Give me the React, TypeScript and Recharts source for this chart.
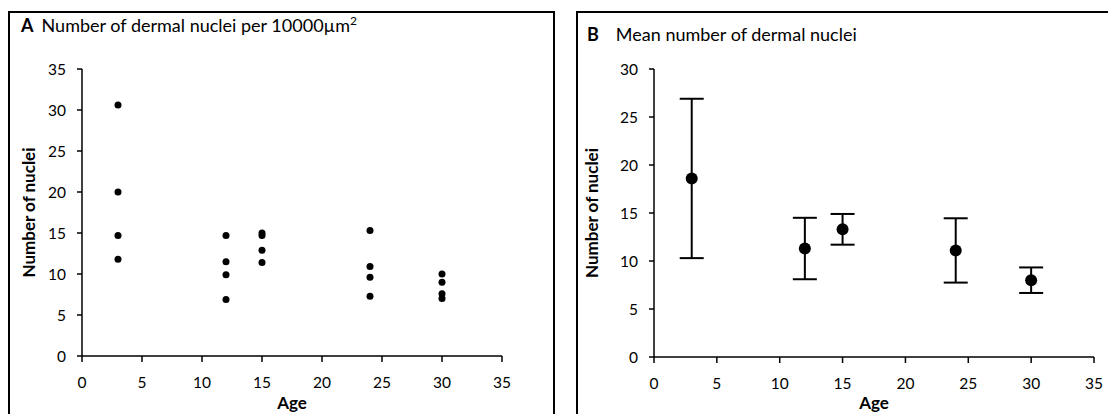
import { ScatterChart, Scatter, XAxis, YAxis, ErrorBar, Label } from "recharts";

// panel A: individual counts per age
const agesA = [3, 3, 3, 3, 12, 12, 12, 12, 15, 15, 15, 15, 24, 24, 24, 24, 30, 30, 30, 30];
const countsA = [30.6, 20.0, 14.7, 11.8, 14.7, 11.5, 9.9, 6.9, 15.0, 14.7, 12.9, 11.4, 15.3, 10.9, 9.6, 7.3, 10.0, 9.0, 7.6, 7.0];

// panel B: means with error
const agesB = [3, 12, 15, 24, 30];
const meansB = [18.6, 11.3, 13.3, 11.1, 8.0];
const errB = [8.3, 3.2, 1.6, 3.35, 1.33];

const xTicks = [0, 5, 10, 15, 20, 25, 30, 35];
const yTicksA = [0, 5, 10, 15, 20, 25, 30, 35];
const yTicksB = [0, 5, 10, 15, 20, 25, 30];

const dataA = agesA.map((age, i) => ({ age, n: countsA[i] }));
const dataB = agesB.map((age, i) => ({ age, n: meansB[i], err: errB[i] }));

const FONT = "Lato, 'Liberation Sans', sans-serif";
const tickStyle = { fill: "#000", fontSize: 15.5, fontFamily: FONT };
const axisLine = { stroke: "#000", strokeWidth: 1.5 };
const labelStyle = { fontFamily: FONT, fontSize: 17, fontWeight: 700, fill: "#000" };

const dot = (r: number) => (p: any) => <circle cx={p.cx} cy={p.cy} r={r} fill="#000" />;

function Title({ left, top, letter, text, gap, sup }: { left: number; top: number; letter: string; text: string; gap: number; sup?: string }) {
  return (
    <div style={{ position: "absolute", left, top, fontFamily: FONT, fontSize: 18, lineHeight: "18px", whiteSpace: "nowrap", color: "#000" }}>
      <b>{letter}</b>
      <span style={{ marginLeft: gap }}>{text}</span>
      {sup && <sup style={{ fontSize: 12, lineHeight: 0 }}>{sup}</sup>}
    </div>
  );
}

export default function App() {
  return (
    <div style={{ position: "absolute", left: 0, top: 0, width: 1108, height: 414, overflow: "hidden", background: "#fff" }}>
      <div style={{ position: "absolute", left: 8, top: 11, width: 543, height: 420, border: "2px solid #000" }} />
      <div style={{ position: "absolute", left: 576, top: 11, width: 560, height: 420, border: "2px solid #000" }} />

      <Title left={21} top={16} letter="A" text={"Number of dermal nuclei per 10000µm"} sup="2" gap={8} />
      <div style={{ position: "absolute", left: 0, top: 0 }}>
        <ScatterChart width={553} height={414} margin={{ top: 69, right: 51, left: 0, bottom: 0 }}>
          <XAxis type="number" dataKey="age" domain={[0, 35]} ticks={xTicks} tick={tickStyle} axisLine={axisLine} tickLine={axisLine} tickSize={6} tickMargin={15} height={58} interval={0}>
            <Label value="Age" position="insideBottom" offset={5} style={labelStyle} />
          </XAxis>
          <YAxis type="number" dataKey="n" domain={[0, 35]} ticks={yTicksA} tick={tickStyle} axisLine={axisLine} tickLine={axisLine} tickSize={5} tickMargin={11} width={82} interval={0}>
            <Label value="Number of nuclei" angle={-90} position="insideLeft" offset={29} style={{ ...labelStyle, textAnchor: "middle" }} />
          </YAxis>
          <Scatter data={dataA} fill="#000" shape={dot(3.5)} isAnimationActive={false} />
        </ScatterChart>
      </div>

      <Title left={587} top={25} letter="B" text="Mean number of dermal nuclei" gap={17} />
      <div style={{ position: "absolute", left: 560, top: 0 }}>
        <ScatterChart width={548} height={414} margin={{ top: 69, right: 14, left: 0, bottom: 0 }}>
          <XAxis type="number" dataKey="age" domain={[0, 35]} ticks={xTicks} tick={tickStyle} axisLine={axisLine} tickLine={axisLine} tickSize={6} tickMargin={15} height={57} interval={0}>
            <Label value="Age" position="insideBottom" offset={5} style={labelStyle} />
          </XAxis>
          <YAxis type="number" dataKey="n" domain={[0, 30]} ticks={yTicksB} tick={tickStyle} axisLine={axisLine} tickLine={axisLine} tickSize={5} tickMargin={11} width={94} interval={0}>
            <Label value="Number of nuclei" angle={-90} position="insideLeft" offset={32} style={{ ...labelStyle, textAnchor: "middle" }} />
          </YAxis>
          <Scatter data={dataB} fill="#000" shape={dot(6)} isAnimationActive={false}>
            <ErrorBar dataKey="err" direction="y" width={12} stroke="#000" strokeWidth={2} />
          </Scatter>
        </ScatterChart>
      </div>
    </div>
  );
}
